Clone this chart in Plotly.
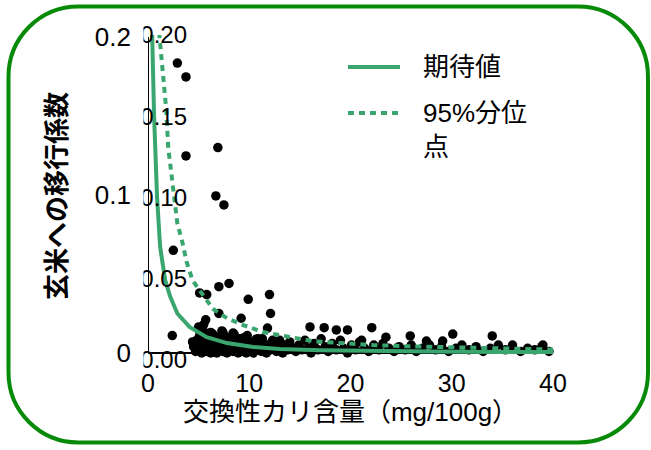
import plotly.graph_objects as go

# ---------------- data ----------------
# observed transfer coefficients: scattered / high values
obs_hi_x = [2.9, 3.75, 3.75, 6.9, 6.7, 7.5, 2.5, 8.0, 7.0, 5.1, 5.8, 9.9, 12.0, 12.1,
            7.0, 9.2, 5.7, 2.4, 4.4, 5.0, 5.5, 7.4, 8.4, 9.4, 10.7, 11.8,
            16.0, 17.4, 18.6, 19.7, 22.1, 23.5, 21.1, 25.9, 27.5, 29.1, 30.1, 34.0, 36.0, 39.0]
obs_hi_y = [0.1835, 0.1747, 0.1247, 0.130, 0.0994, 0.0937, 0.065, 0.044, 0.042, 0.038, 0.037, 0.034, 0.037, 0.025,
            0.025, 0.022, 0.021, 0.011, 0.007, 0.0165, 0.018, 0.013, 0.0126, 0.0095, 0.0089, 0.0158,
            0.0165, 0.016, 0.0146, 0.0146, 0.016, 0.010, 0.008, 0.0108, 0.0076, 0.0076, 0.012, 0.0108, 0.005, 0.005]

# observed transfer coefficients: dense low values
obs_lo_x = [4.5, 4.7, 4.8, 5.0, 5.1, 5.2, 5.3, 5.4, 5.5, 5.6, 5.7, 5.8, 5.9, 6.0, 6.1, 6.2, 6.3, 6.4, 6.5, 6.6,
            6.7, 6.8, 6.9, 7.0, 7.1, 7.2, 7.3, 7.4, 7.5, 7.6, 7.7, 7.8, 7.9, 8.0, 8.1, 8.2, 8.3, 8.4, 8.5, 8.6,
            8.7, 8.8, 8.9, 9.0, 9.1, 9.2, 9.3, 9.5, 9.6, 9.7, 9.8, 10.0, 10.1, 10.3, 10.4, 10.6, 10.7, 10.9, 11.0, 11.2,
            11.4, 11.5, 11.7, 11.9, 12.1, 12.3, 12.5, 12.7, 12.9, 13.1, 13.3, 13.5, 13.8, 14.0, 14.3,
            14.6, 14.9, 15.2, 15.5, 15.8, 16.1, 16.4, 16.8, 17.1, 17.5, 17.8, 18.2, 18.6, 19.0, 19.3, 19.7, 20.1, 20.5,
            20.9, 21.4, 21.8, 22.3, 22.8, 23.2, 23.8, 24.3, 24.8, 25.4, 26.0, 26.5, 27.1, 27.8, 28.4, 29.0, 29.7,
            30.4, 31.0, 31.7, 32.4, 33.1, 33.8, 34.6, 35.3, 36.0, 36.8, 37.5, 38.2, 38.9, 39.6,
            5.0, 5.6, 6.2, 6.8, 7.3, 7.9, 8.5, 9.1, 9.8, 10.5, 11.3, 12.2, 13.0]
obs_lo_y = [0.004, 0.001, 0.008, 0.003, 0.011, 0.006, 0.000, 0.009, 0.002, 0.013, 0.005, 0.001, 0.007, 0.010, 0.003, 0.000, 0.006, 0.012, 0.002, 0.008,
            0.004, 0.000, 0.010, 0.006, 0.002, 0.008, 0.004, 0.001, 0.011, 0.006, 0.003, 0.000, 0.008, 0.005, 0.002, 0.010, 0.006, 0.001, 0.004, 0.008,
            0.002, 0.006, 0.000, 0.009, 0.004, 0.001, 0.006, 0.003, 0.008, 0.000, 0.005, 0.002, 0.007, 0.004, 0.000, 0.006, 0.002, 0.009, 0.004, 0.001,
            0.006, 0.003, 0.000, 0.005, 0.002, 0.008, 0.004, 0.001, 0.006, 0.003, 0.000, 0.005, 0.002, 0.007, 0.003,
            0.001, 0.005, 0.002, 0.008, 0.003, 0.000, 0.006, 0.002, 0.009, 0.004, 0.001, 0.006, 0.002, 0.008, 0.003, 0.000, 0.005, 0.002,
            0.007, 0.003, 0.001, 0.005, 0.002, 0.006, 0.003, 0.001, 0.004, 0.002, 0.005, 0.001, 0.003, 0.005, 0.002, 0.004, 0.001,
            0.003, 0.005, 0.002, 0.004, 0.001, 0.003, 0.005, 0.002, 0.003, 0.001, 0.003, 0.002, 0.004, 0.001,
            0.015, 0.007, 0.013, 0.005, 0.014, 0.003, 0.012, 0.007, 0.011, 0.003, 0.009, 0.005, 0.008]

# expected value curve
exp_x = [0.4, 0.6, 0.9, 1.2, 1.7, 2.2, 2.9, 4.1, 5.8, 7.8, 10.4, 13, 17, 22, 28, 34, 40]
exp_y = [0.205, 0.15, 0.098, 0.067, 0.046, 0.0355, 0.025, 0.0165, 0.010, 0.0063, 0.0038, 0.0025, 0.0018, 0.0012, 0.0009, 0.0007, 0.0006]

# 95th percentile curve
p95_x = [1.0, 1.8, 2.0, 2.5, 2.9, 3.4, 3.8, 4.4, 5.4, 6.4, 7.8, 9.4, 11.3, 13, 16.3, 19, 22.2, 26, 30, 35, 40]
p95_y = [0.21, 0.154, 0.130, 0.104, 0.082, 0.070, 0.058, 0.046, 0.037, 0.028, 0.022, 0.0177, 0.0133, 0.0114, 0.0075, 0.0063, 0.005, 0.0042, 0.0035, 0.0028, 0.0022]

y_main_ticks = [0, 0.1, 0.2]
y_main_text = ["0", "0.1", "0.2"]
y_sub_ticks = [0, 0.05, 0.10, 0.15, 0.20]
y_sub_text = ["0.00", "0.05", "0.10", "0.15", "0.20"]
x_ticks = [0, 10, 20, 30, 40]

legend_names = ["期待値", "95%分位<br>点"]
x_title = "交換性カリ含量（mg/100g）"
y_title = "<b>玄米への移行係数</b>"

# ---------------- layout geometry ----------------
W, H = 651, 450
L, R = 148, 553
T, B = 35, 360          # plot box in pixels (inner axis spans this)
Y0PX, Y2PX = 353, 37    # pixel rows of y=0 and y=0.2 on the main axis
GREEN = "#3AA66F"
FONT = "Liberation Sans, Arial, Noto Sans CJK JP, sans-serif"

scale = (Y0PX - Y2PX) / 0.2
main_range = [-(B - Y0PX) / scale, 0.2 + (Y2PX - T) / scale]


def px(x):
    return (x - L) / (R - L)


def py(y):
    return (B - y) / (B - T)


fig = go.Figure()
fig.add_trace(go.Scatter(x=obs_hi_x + obs_lo_x, y=obs_hi_y + obs_lo_y, mode="markers",
                         marker=dict(color="black", size=9.5), showlegend=False, cliponaxis=False))
fig.add_trace(go.Scatter(x=exp_x, y=exp_y, mode="lines", name=legend_names[0],
                         line=dict(color=GREEN, width=4), showlegend=False))
fig.add_trace(go.Scatter(x=p95_x, y=p95_y, mode="lines", name=legend_names[1],
                         line=dict(color=GREEN, width=4, dash="6px,5px"), showlegend=False))
# invisible trace to activate the secondary (inner) y axis
fig.add_trace(go.Scatter(x=[None], y=[None], yaxis="y2", showlegend=False))

# rounded frame
x0, x1, y0, y1, r = 8.5, 648, 6.5, 442.5, 70
k = 0.5523 * r
path_px = [
    ("M", [(x0 + r, y0)]), ("L", [(x1 - r, y0)]),
    ("C", [(x1 - r + k, y0), (x1, y0 + r - k), (x1, y0 + r)]),
    ("L", [(x1, y1 - r)]),
    ("C", [(x1, y1 - r + k), (x1 - r + k, y1), (x1 - r, y1)]),
    ("L", [(x0 + r, y1)]),
    ("C", [(x0 + r - k, y1), (x0, y1 - r + k), (x0, y1 - r)]),
    ("L", [(x0, y0 + r)]),
    ("C", [(x0, y0 + r - k), (x0 + r - k, y0), (x0 + r, y0)]),
]
path = ""
for cmd, pts in path_px:
    path += cmd + " ".join(f"{px(a):.5f},{py(b):.5f}" for a, b in pts) + " "
path += "Z"
shapes = [dict(type="path", xref="paper", yref="paper", path=path,
               line=dict(color="#078A07", width=4), fillcolor="rgba(0,0,0,0)", layer="above")]
# mask that cuts off the leading digits of the inner tick labels
shapes.append(dict(type="rect", xref="paper", yref="paper", x0=px(131), x1=px(143.5),
                   y0=py(374), y1=py(20), fillcolor="white", line=dict(width=0), layer="above"))
# axis lines (main axes span y 0..0.2 and x 0..40)
shapes.append(dict(type="line", xref="x", yref="y", x0=0, x1=0, y0=0, y1=0.2,
                   line=dict(color="black", width=2), layer="below"))
shapes.append(dict(type="line", xref="x", yref="y", x0=0, x1=40, y0=0, y1=0,
                   line=dict(color="black", width=2), layer="below"))

# manual legend
shapes.append(dict(type="line", xref="paper", yref="paper", x0=px(348), x1=px(400), y0=py(67), y1=py(67),
                   line=dict(color=GREEN, width=4), layer="above"))
shapes.append(dict(type="line", xref="paper", yref="paper", x0=px(348), x1=px(402), y0=py(113), y1=py(113),
                   line=dict(color=GREEN, width=4, dash="6px,5px"), layer="above"))
annotations = [
    dict(text=legend_names[0], xref="paper", yref="paper", x=px(421), y=py(67), xanchor="left", yanchor="middle",
         showarrow=False, font=dict(size=26, color="black", family=FONT)),
    dict(text=legend_names[1], xref="paper", yref="paper", x=px(421), y=py(130), xanchor="left", yanchor="middle",
         showarrow=False, align="left", font=dict(size=26, color="black", family=FONT)),
    dict(text=y_title, xref="paper", yref="paper", x=px(57), y=py(196), xanchor="center", yanchor="middle",
         textangle=-90, showarrow=False, font=dict(size=26, color="black", family=FONT)),
]

fig.update_layout(
    width=W, height=H,
    margin=dict(l=L, r=W - R, t=T, b=H - B, autoexpand=False),
    paper_bgcolor="white", plot_bgcolor="white",
    font=dict(family=FONT, color="black"),
    showlegend=False,
    xaxis=dict(range=[0, 40], tickvals=x_ticks, showgrid=False, zeroline=False,
               showline=False, ticks="",
               ticklabelstandoff=6, tickfont=dict(size=25),
               title=dict(text=x_title, font=dict(size=26), standoff=3)),
    yaxis=dict(range=main_range, tickvals=y_main_ticks, ticktext=y_main_text, showgrid=False, zeroline=False,
               showline=False, ticks="",
               ticklabelstandoff=16, tickfont=dict(size=26)),
    yaxis2=dict(overlaying="y", anchor="free", side="left", position=px(187),
                range=[0, 0.2], tickvals=y_sub_ticks, ticktext=y_sub_text,
                showgrid=False, zeroline=False, showline=False, ticks="",
                tickfont=dict(size=24)),
    shapes=shapes, annotations=annotations,
)

fig.write_html("out.html", config={"displayModeBar": False},
               post_script="document.body.style.margin='0';document.body.style.overflow='hidden';")
